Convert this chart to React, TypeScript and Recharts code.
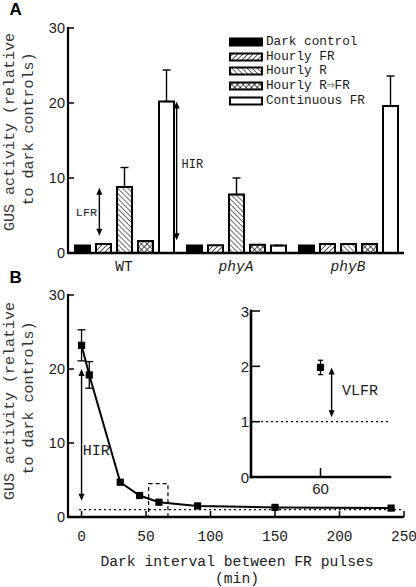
import React from 'react';
import {
  BarChart, Bar, XAxis, YAxis, ErrorBar, ReferenceLine, ReferenceDot, ReferenceArea,
  LineChart, Line, Legend,
} from 'recharts';

// ---------- Panel A data ----------
const groups = ['WT', 'phyA', 'phyB'];
const darkControl = [1.0, 1.0, 1.0];
const hourlyFR = [1.2, 1.05, 1.2];
const hourlyR = [8.8, 7.8, 1.2];
const hourlyRFR = [1.6, 1.1, 1.2];
const continuousFR = [20.2, 1.0, 19.6];
const hourlyRErr = [2.6, 2.2, 0];
const continuousFRErr = [4.2, 0, 4.0];
const seriesNames = ['Dark control', 'Hourly FR', 'Hourly R', 'Hourly R\u21E8FR', 'Continuous FR'];
const yTicksA = [0, 10, 20, 30];

// ---------- Panel B data ----------
const intervals = [0, 6, 30, 45, 60, 90, 150, 240];
const gusActivity = [23.2, 19.2, 4.7, 2.9, 2.0, 1.5, 1.3, 1.2];
const gusErr = [2.1, 1.8, 0, 0, 0, 0, 0, 0];
const xTicksB = [0, 50, 100, 150, 200, 250];
const yTicksB = [0, 10, 20, 30];

// ---------- Inset data ----------
const insetInterval = [60];
const insetActivity = [1.98];
const insetErr = [0.13];
const yTicksInset = [0, 1, 2, 3];
const xTicksInset = [60];

const barData = groups.map((g, i) => ({
  name: g,
  pos: i + 0.5,
  dark: darkControl[i],
  fr: hourlyFR[i],
  r: hourlyR[i],
  rfr: hourlyRFR[i],
  cont: continuousFR[i],
  rErr: [0, hourlyRErr[i]],
  contErr: [0, continuousFRErr[i]],
}));

const lineData = intervals.map((x, i) => ({ x, gus: gusActivity[i], err: gusErr[i] }));
const insetData = insetInterval.map((x, i) => ({ x, gus: insetActivity[i], err: insetErr[i] }));

const MONO = "'Liberation Mono', 'DejaVu Sans Mono', monospace";
const SANS = "'Liberation Sans', Arial, sans-serif";
const INK = '#1a1a1a';

const frameLine = { stroke: '#000', strokeWidth: 2.2, strokeLinecap: 'square' as const };

const arrowShape = (props: any) => {
  const { x1, y1, x2, y2 } = props;
  const head = 7;
  const half = 3;
  const dir = y2 > y1 ? 1 : -1;
  return (
    <g>
      <line x1={x1} y1={y1 + dir * head * 0.8} x2={x2} y2={y2 - dir * head * 0.8} stroke="#000" strokeWidth={1.4} />
      <polygon points={`${x1},${y1} ${x1 - half},${y1 + dir * head} ${x1 + half},${y1 + dir * head}`} fill="#000" />
      <polygon points={`${x2},${y2} ${x2 - half},${y2 - dir * head} ${x2 + half},${y2 - dir * head}`} fill="#000" />
    </g>
  );
};

const textShape = (label: string, size: number, anchor: 'start' | 'middle') => (props: any) => (
  <text x={props.cx} y={props.cy} textAnchor={anchor} dominantBaseline="central" fontFamily={MONO} fontSize={size} fill={INK}>
    {label}
  </text>
);

const yTick = (margin: number, len: number, font: string, size: number) => (p: any) => (
  <g key={`yt-${p.payload.value}`}>
    <line x1={p.x + margin} x2={p.x + margin + len} y1={p.y} y2={p.y} stroke="#000" strokeWidth={1.5} />
    <text x={p.x} y={p.y} textAnchor="end" dominantBaseline="central" fontFamily={font} fontSize={size} fill={INK}>
      {p.payload.value}
    </text>
  </g>
);

const xTick = (dy: number, len: number, font: string, size: number) => (p: any) => (
  <g key={`xt-${p.payload.value}`}>
    <line x1={p.x} x2={p.x} y1={p.y} y2={p.y - len} stroke="#000" strokeWidth={1.5} />
    <text x={p.x} y={p.y + dy} textAnchor="middle" dominantBaseline="central" fontFamily={font} fontSize={size} fill={INK}>
      {p.payload.value}
    </text>
  </g>
);

const catTick = (p: any) => {
  const v = String(p.payload.value);
  return (
    <text x={p.x} y={p.y + 14} textAnchor="middle" dominantBaseline="central" fontFamily={MONO} fontSize={14.5}
      fontStyle={v.startsWith('phy') ? 'italic' : 'normal'} fill={INK}>
      {v}
    </text>
  );
};

const fills = ['#000', 'url(#hatchFR)', 'url(#hatchR)', 'url(#hatchX)', '#fff'];

const LegendBox = () => (
  <div style={{ display: 'flex', flexDirection: 'column' }}>
    {seriesNames.map((n, i) => (
      <div key={n} style={{ display: 'flex', alignItems: 'center', height: 14.6 }}>
        <svg width={37} height={10} style={{ display: 'block' }}>
          <rect x={1} y={1.5} width={32} height={7} fill={fills[i]} stroke="#000" strokeWidth={2} />
        </svg>
        <span style={{ fontFamily: MONO, fontSize: 12.7, color: INK, whiteSpace: 'pre', lineHeight: '14px' }}>{n}</span>
      </div>
    ))}
  </div>
);

const squareDot = (p: any) => (
  <rect key={`d-${p.index}`} x={p.cx - 3.6} y={p.cy - 3.6} width={7.2} height={7.2} fill="#000" />
);

export default function App() {
  return (
    <div style={{ position: 'absolute', left: 0, top: 0, width: 416, height: 587, background: '#fff' }}>
      <svg width={0} height={0} style={{ position: 'absolute' }}>
        <defs>
          <pattern id="hatchFR" width={3.6} height={3.6} patternUnits="userSpaceOnUse" patternTransform="rotate(45)">
            <rect width={3.6} height={3.6} fill="#fff" />
            <line x1={0} y1={0} x2={0} y2={3.6} stroke="#000" strokeWidth={1.3} />
          </pattern>
          <pattern id="hatchR" width={3.6} height={3.6} patternUnits="userSpaceOnUse" patternTransform="rotate(-45)">
            <rect width={3.6} height={3.6} fill="#fff" />
            <line x1={0} y1={0} x2={0} y2={3.6} stroke="#000" strokeWidth={1.1} />
          </pattern>
          <pattern id="hatchX" width={4} height={4} patternUnits="userSpaceOnUse" patternTransform="rotate(45)">
            <rect width={4} height={4} fill="#fff" />
            <line x1={0} y1={0} x2={0} y2={4} stroke="#000" strokeWidth={1.3} />
            <line x1={0} y1={0} x2={4} y2={0} stroke="#000" strokeWidth={1.3} />
          </pattern>
        </defs>
      </svg>

      {/* Panel A */}
      <div style={{ position: 'absolute', left: 0, top: 0 }}>
        <BarChart width={416} height={280} data={barData} barSize={15} barGap={6}
          margin={{ top: 28, right: 12, left: 0, bottom: 0 }}>
          <XAxis dataKey="name" height={27} tickLine={false} tickSize={0} tickMargin={0}
            axisLine={{ stroke: '#000', strokeWidth: 2.6 }} tick={catTick} interval={0} />
          <XAxis xAxisId="num" dataKey="pos" type="number" domain={[0, 3]} allowDataOverflow orientation="top" height={0}
            tick={false} tickLine={false} axisLine={frameLine} />
          <YAxis width={68} domain={[0, 30]} ticks={yTicksA} interval={0} tickLine={false} tickSize={0} tickMargin={3}
            axisLine={frameLine} tick={yTick(3, 6, SANS, 14.5)} />
          <YAxis yAxisId="r" orientation="right" width={0} domain={[0, 30]} tick={false} tickLine={false} axisLine={frameLine} />
          <Bar dataKey="dark" fill={fills[0]} stroke="#000" strokeWidth={2} isAnimationActive={false} />
          <Bar dataKey="fr" fill={fills[1]} stroke="#000" strokeWidth={2} isAnimationActive={false} />
          <Bar dataKey="r" fill={fills[2]} stroke="#000" strokeWidth={2} isAnimationActive={false}>
            <ErrorBar dataKey="rErr" width={4} stroke="#000" strokeWidth={1.4} direction="y" />
          </Bar>
          <Bar dataKey="rfr" fill={fills[3]} stroke="#000" strokeWidth={2} isAnimationActive={false} />
          <Bar dataKey="cont" fill={fills[4]} stroke="#000" strokeWidth={2} isAnimationActive={false}>
            <ErrorBar dataKey="contErr" width={4} stroke="#000" strokeWidth={1.4} direction="y" />
          </Bar>
          <ReferenceLine xAxisId="num" segment={[{ x: 0.28, y: 8.7 }, { x: 0.28, y: 2.3 }]} shape={arrowShape} ifOverflow="visible" />
          <ReferenceLine xAxisId="num" segment={[{ x: 0.97, y: 20.2 }, { x: 0.97, y: 1.7 }]} shape={arrowShape} ifOverflow="visible" />
          <ReferenceDot xAxisId="num" x={0.165} y={5.3} r={1} shape={textShape('LFR', 11.8, 'middle')} ifOverflow="visible" />
          <ReferenceDot xAxisId="num" x={1.11} y={11.7} r={1} shape={textShape('HIR', 12, 'middle')} ifOverflow="visible" />
          <Legend layout="vertical" align="center" verticalAlign="middle" content={<LegendBox />}
            wrapperStyle={{ position: 'absolute', left: 229, top: 35, width: 180, height: 80 }} />
        </BarChart>
      </div>

      {/* Panel B */}
      <div style={{ position: 'absolute', left: 0, top: 280 }}>
        <LineChart width={416} height={307} data={lineData} margin={{ top: 15, right: 12, left: 0, bottom: 0 }}>
          <XAxis dataKey="x" type="number" domain={[-10.5, 250]} allowDataOverflow ticks={xTicksB} interval={0}
            height={70} tickLine={false} tickSize={0} tickMargin={0} axisLine={{ stroke: '#000', strokeWidth: 2.4 }}
            tick={xTick(20, 6, MONO, 14.5)} />
          <XAxis xAxisId="top" dataKey="x" type="number" domain={[-10.5, 250]} allowDataOverflow orientation="top" height={0}
            tick={false} tickLine={false} axisLine={frameLine} />
          <YAxis width={68} domain={[0, 30]} ticks={yTicksB} interval={0} tickLine={false} tickSize={0} tickMargin={3}
            axisLine={frameLine} tick={yTick(3, 6, SANS, 14.5)} />
          <YAxis yAxisId="r" orientation="right" width={0} domain={[0, 30]} tick={false} tickLine={false} axisLine={frameLine} />
          <ReferenceLine segment={[{ x: -2, y: 1 }, { x: 250, y: 1 }]} stroke="#000" strokeWidth={1.2} strokeDasharray="2 3" ifOverflow="visible" />
          <ReferenceArea x1={52} x2={67} y1={0} y2={4.5} fill="none" stroke="#000" strokeWidth={1.2} strokeDasharray="4 3" ifOverflow="visible" />
          <ReferenceLine segment={[{ x: 0, y: 20 }, { x: 0, y: 2.2 }]} shape={arrowShape} ifOverflow="visible" />
          <ReferenceDot x={1} y={8.8} r={1} shape={textShape('HIR', 15, 'start')} ifOverflow="visible" />
          <Line dataKey="gus" type="linear" stroke="#000" strokeWidth={2} dot={squareDot} activeDot={false} isAnimationActive={false}>
            <ErrorBar dataKey="err" width={4} stroke="#000" strokeWidth={1.3} direction="y" />
          </Line>
        </LineChart>
      </div>

      {/* Inset */}
      <div style={{ position: 'absolute', left: 230, top: 300 }}>
        <LineChart width={170} height={200} data={insetData} margin={{ top: 11, right: 10, left: 0, bottom: 0 }}>
          <XAxis dataKey="x" type="number" domain={[50, 70]} allowDataOverflow ticks={xTicksInset} interval={0}
            height={23} tickLine={false} tickSize={0} tickMargin={0} axisLine={{ stroke: '#000', strokeWidth: 2.6, strokeLinecap: 'square' }}
            tick={xTick(11, 9, SANS, 15)} />
          <XAxis xAxisId="top" dataKey="x" type="number" domain={[50, 70]} allowDataOverflow orientation="top" height={0}
            tick={false} tickLine={false} axisLine={{ stroke: '#000', strokeWidth: 2.6, strokeLinecap: 'square' }} />
          <YAxis width={21} domain={[0, 3]} ticks={yTicksInset} interval={0} tickLine={false} tickSize={0} tickMargin={2}
            axisLine={{ stroke: '#000', strokeWidth: 2.6, strokeLinecap: 'square' }} tick={yTick(2, 9, SANS, 15)} />
          <YAxis yAxisId="r" orientation="right" width={0} domain={[0, 3]} tick={false} tickLine={false}
            axisLine={{ stroke: '#000', strokeWidth: 2.6, strokeLinecap: 'square' }} />
          <ReferenceLine y={1} stroke="#000" strokeWidth={1.2} strokeDasharray="2 3" />
          <ReferenceLine segment={[{ x: 61.6, y: 1.98 }, { x: 61.6, y: 1.08 }]} shape={arrowShape} ifOverflow="visible" />
          <ReferenceDot x={63.1} y={1.55} r={1} shape={textShape('VLFR', 15, 'start')} ifOverflow="visible" />
          <Line dataKey="gus" type="linear" stroke="#000" strokeWidth={2} dot={squareDot} activeDot={false} isAnimationActive={false}>
            <ErrorBar dataKey="err" width={2.5} stroke="#000" strokeWidth={1.3} direction="y" />
          </Line>
        </LineChart>
      </div>

      {/* Static text */}
      <svg width={416} height={587} style={{ position: 'absolute', left: 0, top: 0, pointerEvents: 'none' }}>
        <text x={9.5} y={15} fontFamily={SANS} fontWeight="bold" fontSize={17} fill="#000">A</text>
        <text x={9.5} y={283} fontFamily={SANS} fontWeight="bold" fontSize={17} fill="#000">B</text>
        <g fontFamily={MONO} fontSize={15} fill="#333">
          <text transform="translate(10,132) rotate(-90)" textAnchor="middle" dominantBaseline="central">GUS activity (relative</text>
          <text transform="translate(29,129) rotate(-90)" textAnchor="middle" dominantBaseline="central">to dark controls)</text>
          <text transform="translate(10,401) rotate(-90)" textAnchor="middle" dominantBaseline="central">GUS activity (relative</text>
          <text transform="translate(29,398) rotate(-90)" textAnchor="middle" dominantBaseline="central">to dark controls)</text>
        </g>
        <g fontFamily={MONO} fontSize={14.7} fill={INK} textAnchor="middle">
          <text x={237} y={562} dominantBaseline="central">Dark interval between FR pulses</text>
          <text x={237} y={579} dominantBaseline="central">(min)</text>
        </g>
      </svg>
    </div>
  );
}
